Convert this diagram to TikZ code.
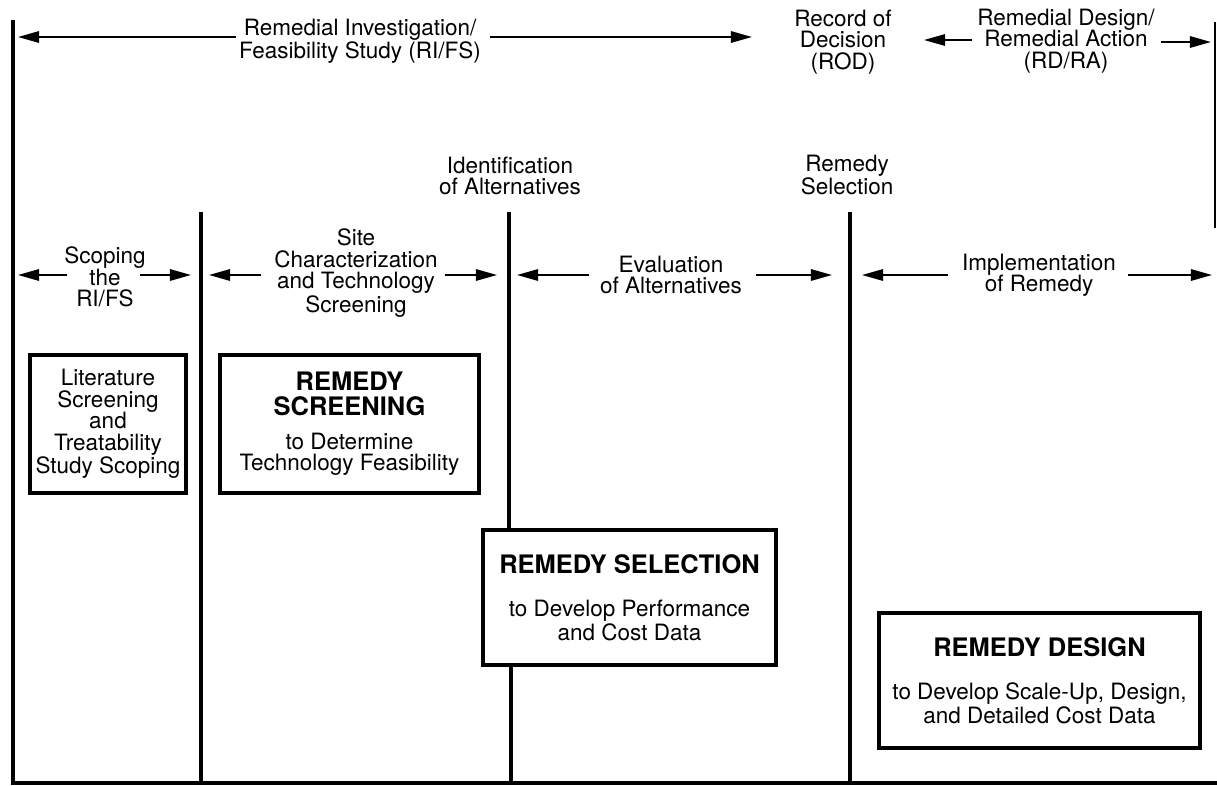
\documentclass[tikz,border=0pt]{standalone}
\usepackage{fontspec}
\setmainfont{TeX Gyre Heros}
\usetikzlibrary{arrows.meta}
\begin{document}
\begin{tikzpicture}[x=0.02cm,y=-0.02cm,
  lbl/.style={align=center,inner sep=0pt,font=\fontsize{12.8}{12.2}\selectfont},
  bar/.style={line width=2.8pt},
  arr/.style={line width=1pt,-{Triangle[length=12pt,width=6.5pt]}},
  box/.style={draw,line width=2pt,align=center,inner sep=0pt,font=\fontsize{12.8}{12.2}\selectfont},
]
\newcommand{\ttl}[1]{{\fontsize{14.5}{14.5}\selectfont\bfseries #1}}
\useasboundingbox (0,0) rectangle (1217,785);

% ---- main frame lines
\coordinate (lt) at (13,20);
\coordinate (lb) at (13,783);
\coordinate (bl) at (11,783);
\coordinate (br) at (1217,783);
\coordinate (rt) at (1215,22);
\coordinate (rb) at (1215,228);
\draw[bar] (lt) -- (lb);
\draw[line width=2.3pt] (bl) -- (br);
\draw[line width=0.7pt] (rt) -- (rb);

% ---- phase separator bars
\coordinate (b2t) at (201,212); \coordinate (b2b) at (201,783);
\coordinate (b3t) at (509,212); \coordinate (b3b) at (511,783);
\coordinate (b4t) at (850,212); \coordinate (b4b) at (850,783);
\draw[bar] (b2t) -- (b2b);
\draw[bar] (b4t) -- (b4b);

% ---- top labels
\node[lbl] (rifs) at (360,41) {Remedial Investigation/\\Feasibility Study (RI/FS)};
\node[lbl] (rod) at (843,42) {Record of\\Decision\\(ROD)};
\node[lbl] (rdra) at (1066,41) {Remedial Design/\\Remedial Action\\(RD/RA)};

\coordinate (a1s) at (236,37); \coordinate (a1e) at (18,37);
\coordinate (a2s) at (490,37); \coordinate (a2e) at (752,37);
\coordinate (a3s) at (972,40); \coordinate (a3e) at (924,40);
\coordinate (a4s) at (1161,42); \coordinate (a4e) at (1211,42);
\draw[arr] (a1s) -- (a1e);
\draw[arr] (a2s) -- (a2e);
\draw[arr] (a3s) -- (a3e);
\draw[arr] (a4s) -- (a4e);

% ---- milestone labels
\node[lbl] (ident) at (510,176) {Identification\\of Alternatives};
\node[lbl] (rsel) at (847,175) {Remedy\\Selection};

% ---- phase labels
\node[lbl] (scop) at (105,277) {Scoping\\the\\RI/FS};
\node[lbl] (site) at (356,273) {Site\\Characterization\\and Technology\\Screening};
\node[lbl] (eval) at (671,275) {Evaluation\\of Alternatives};
\node[lbl] (impl) at (1039,275) {Implementation\\of Remedy};

\coordinate (s1s) at (67,275);   \coordinate (s1e) at (18,275);
\coordinate (s2s) at (140,275);  \coordinate (s2e) at (191,275);
\coordinate (s3s) at (261,275);  \coordinate (s3e) at (209,275);
\coordinate (s4s) at (445,275);  \coordinate (s4e) at (497,275);
\coordinate (s5s) at (589,275);  \coordinate (s5e) at (517,275);
\coordinate (s6s) at (756,275);  \coordinate (s6e) at (832,275);
\coordinate (s7s) at (948,275);  \coordinate (s7e) at (862,275);
\coordinate (s8s) at (1128,275); \coordinate (s8e) at (1212,275);
\foreach \i in {1,...,8} {\draw[arr] (s\i s) -- (s\i e);}

% ---- boxes
\node[box,minimum width=3.12cm,minimum height=2.76cm] (lit) at (108,424)
  {Literature\\Screening\\and\\Treatability\\Study Scoping};
\node[box,minimum width=5.18cm,minimum height=2.76cm] (scr) at (349.5,424)
  {\ttl{REMEDY}\\[2pt]\ttl{SCREENING}\\[7pt]to Determine\\Technology Feasibility};
\node[box,minimum width=5.86cm,minimum height=2.70cm] (sel) at (629.5,597.5)
  {\ttl{REMEDY SELECTION}\\[12.4pt]to Develop Performance\\and Cost Data};
\node[box,minimum width=6.42cm,minimum height=2.70cm,fill=white] (des) at (1039.5,680.5)
  {\ttl{REMEDY DESIGN}\\[12.4pt]to Develop Scale-Up, Design,\\and Detailed Cost Data};

\draw[bar] (b3t) -- (b3t |- sel.north);
\draw[bar] (sel.south -| b3b) -- (b3b);
\end{tikzpicture}
\end{document}
